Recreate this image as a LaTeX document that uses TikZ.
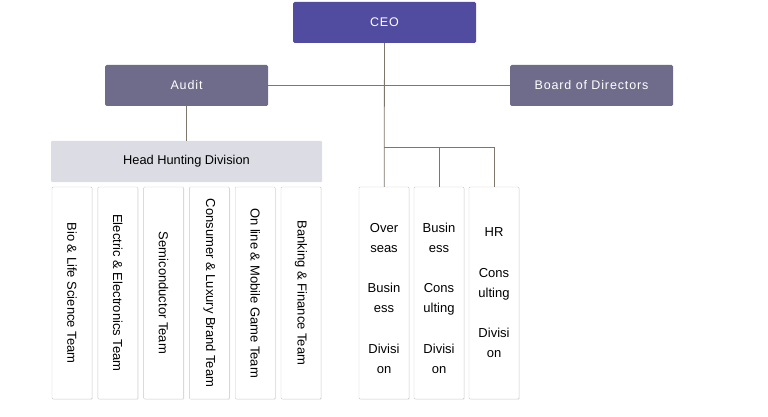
\documentclass[tikz,border=0pt]{standalone}
\usepackage{fontspec}
\setmainfont{Liberation Sans}
\newfontfamily\headfont[LetterSpace = 7]{Liberation Sans}
\usetikzlibrary{calc, shadows}

\definecolor{ceoblue}{RGB}{82,76,160}
\definecolor{headgray}{RGB}{110,108,138}
\definecolor{divgray}{RGB}{220,220,228}
\definecolor{linegray}{RGB}{125,119,107}
\definecolor{boxline}{RGB}{200,200,200}

\begin{document}
\begin{tikzpicture}[x = 1pt, y = -1pt]
	\tikzstyle {topbox} = [rounded corners = 1.5pt, text = white, font = \headfont\fontsize{12.5}{15}\selectfont, minimum height = 41pt, inner sep = 0pt];
	\tikzstyle {teambox} = [draw = boxline, fill = white, rounded corners = 1pt, minimum width = 40pt, minimum height = 212pt, inner sep = 0pt, drop shadow = {opacity = 0.12, shadow xshift = 0.8pt, shadow yshift = -0.8pt}, font = \fontsize{13}{15}\selectfont];
	\tikzstyle {divbox} = [teambox, minimum width = 50pt, align = center, font = \fontsize{13}{20}\selectfont];
	\tikzstyle {connector} = [draw = linegray, line width = 0.8pt];
	\useasboundingbox (0, 0) rectangle (768, 417);
	\node[topbox, fill = ceoblue, minimum width = 183pt] (ceo) at (384.5, 22.5) {CEO};
	\node[topbox, fill = headgray, minimum width = 163pt] (audit) at (186.5, 85.5) {Audit};
	\node[topbox, fill = headgray, minimum width = 163pt] (board) at (591.5, 85.5) {Board of Directors};
	\node[fill = divgray, rounded corners = 1pt, minimum width = 271pt, minimum height = 41pt, inner sep = 0pt, font = \fontsize{12.8}{15}\selectfont] (hunting) at (186.5, 161.5) {Head Hunting Division};
	\foreach \teamname [count = \i from 0] in {Bio \& Life Science Team, Electric \& Electronics Team, Semiconductor Team, Consumer \& Luxury Brand Team, On line \& Mobile Game Team, Banking \& Finance Team} {
			\node[teambox] (team\i) at (72 + 45.8 * \i, 293) {\rotatebox{-90}{\teamname}};
		}
	\node[divbox] (div1) at (384, 293) {\rule{0pt}{19.6pt}Over\\seas\\[20.5pt]Busin\\ess\\[20.5pt]Divisi\\on};
	\node[divbox] (div2) at (439, 293) {\rule{0pt}{19.6pt}Busin\\ess\\[20.5pt]Cons\\ulting\\[20.5pt]Divisi\\on};
	\node[divbox] (div3) at (494, 293) {HR\\[20.5pt]Cons\\ulting\\[20.5pt]Divisi\\on};
	\coordinate (split) at (384, 147);
	\draw[connector] (audit.east) -- (board.west);
	\draw[connector] (audit) -- (hunting);
	\draw[connector] (ceo) -- (div1);
	\foreach \divname in {div2, div3} {
			\draw[connector] (split) -| (\divname.north);
		}
\end{tikzpicture}
\end{document}
